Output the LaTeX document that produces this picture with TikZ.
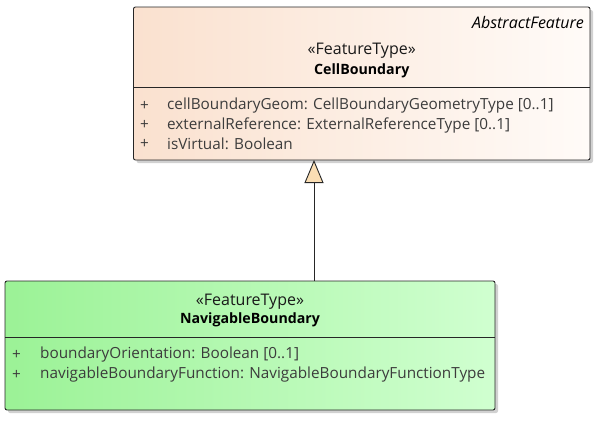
\documentclass[tikz,border=0pt]{standalone}
\usepackage{fontspec}
\setmainfont{Open Sans}
\usetikzlibrary{arrows.meta}
\definecolor{peachL}{RGB}{250,225,207}
\definecolor{peachR}{RGB}{255,251,248}
\definecolor{greenL}{RGB}{155,242,150}
\definecolor{greenR}{RGB}{208,255,208}
\definecolor{attrc}{RGB}{60,60,60}
\definecolor{arrowfill}{RGB}{250,222,180}
\tikzset{
  umlbox/.style={draw=black!85, line width=0.9pt, rounded corners=2pt},
  shadowbox/.style={fill=black!18, rounded corners=2pt},
  txt/.style={inner sep=0pt, font=\fontsize{15.3}{16}\selectfont},
  attr/.style={txt, anchor=west, text=attrc},
  stereo/.style={txt, font=\fontsize{16}{16}\selectfont, text=black!90},
  cname/.style={txt, font=\fontsize{14.2}{16}\selectfont\bfseries},
  gen/.style={-{Triangle[open, length=23pt, width=19pt, fill=arrowfill]}, line width=0.9pt, draw=black!85}
}
\begin{document}
\begin{tikzpicture}[x=1pt,y=-1pt]
\useasboundingbox (0,0) rectangle (597,421);
% top box
\fill[shadowbox] (136.5,10) rectangle (593,163);
\shade[left color=peachL, right color=peachR, rounded corners=2pt] (133.5,7) rectangle (590,160);
\draw[umlbox] (133.5,7) rectangle (590,160);
\draw[line width=0.9pt, black!85] (133.5,87.5) -- (590,87.5);
\coordinate (cbbot) at (314,160);
\node[txt, anchor=east, font=\fontsize{16}{16}\selectfont\itshape] (abs) at (584,22) {AbstractFeature};
\node[stereo] (cbst) at (361.75,50.5) {«FeatureType»};
\node[cname] (cbname) at (361.75,71) {CellBoundary};
\node[attr] (p1) at (140,106) {+};
\node[attr] (a1) at (167,106) {cellBoundaryGeom: CellBoundaryGeometryType [0..1]};
\node[attr] (p2) at (140,125) {+};
\node[attr] (a2) at (167,125) {externalReference: ExternalReferenceType [0..1]};
\node[attr] (p3) at (140,144) {+};
\node[attr] (a3) at (167,144) {isVirtual: Boolean};
% bottom box
\fill[shadowbox] (8,284) rectangle (498,413);
\shade[left color=greenL, right color=greenR, rounded corners=2pt] (5,281) rectangle (495,410);
\draw[umlbox] (5,281) rectangle (495,410);
\draw[line width=0.9pt, black!85] (5,337.5) -- (495,337.5);
\coordinate (nbtop) at (314,281);
\node[stereo] (nbst) at (250,301.5) {«FeatureType»};
\node[cname] (nbname) at (250,320) {NavigableBoundary};
\node[attr] (q1) at (12,355) {+};
\node[attr] (b1) at (40,355) {boundaryOrientation: Boolean [0..1]};
\node[attr] (q2) at (12,375) {+};
\node[attr] (b2) at (40,375) {navigableBoundaryFunction: NavigableBoundaryFunctionType};
% generalization
\draw[gen] (nbtop) -- (cbbot);
\end{tikzpicture}
\end{document}
